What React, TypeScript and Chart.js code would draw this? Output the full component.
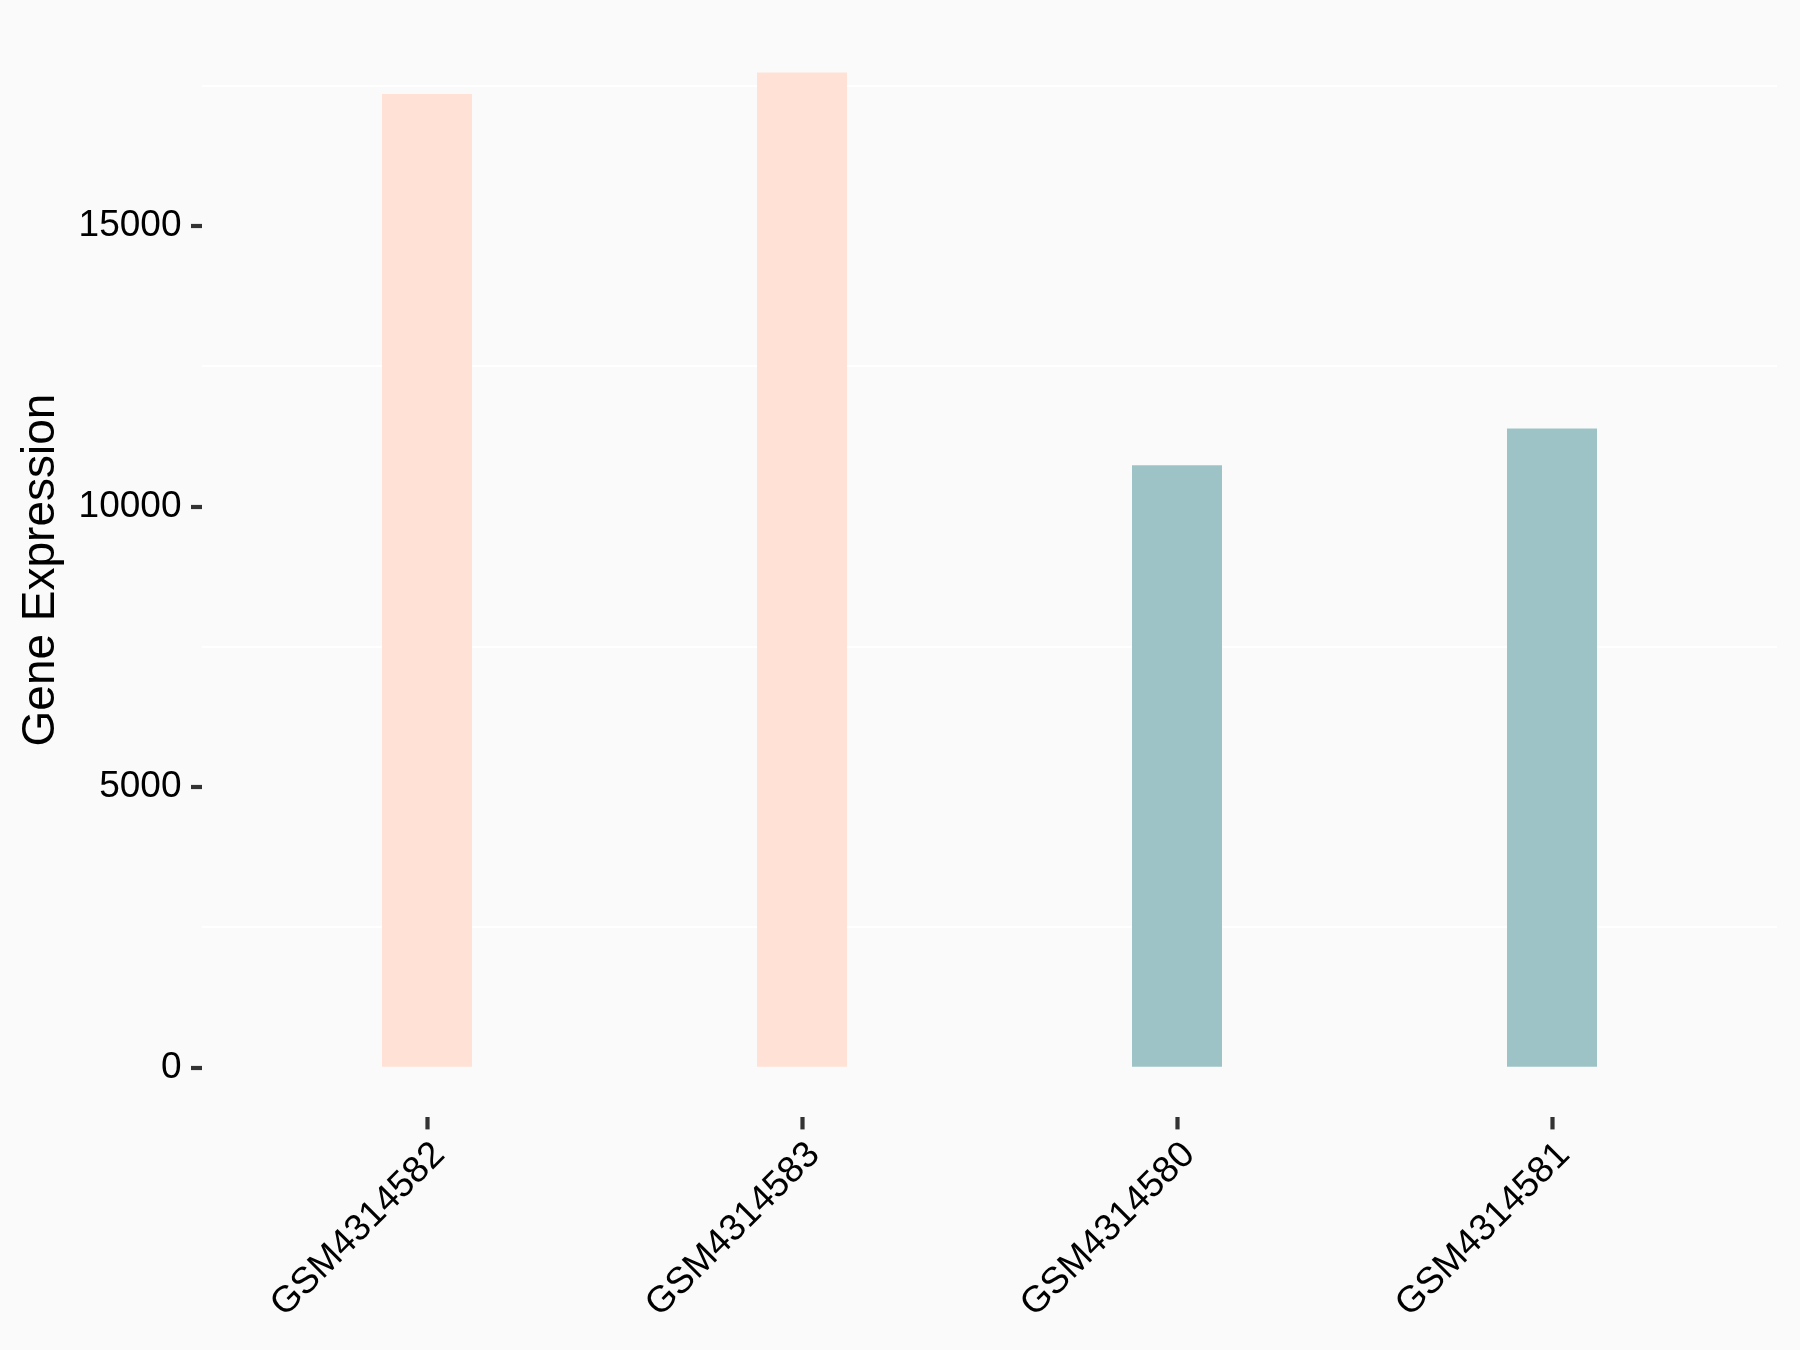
import { useEffect, useRef } from "react";
import { Chart, registerables } from "chart.js";

Chart.register(...registerables);

const categories = ["GSM4314582", "GSM4314583", "GSM4314580", "GSM4314581"];
const values = [17355, 17740, 10740, 11395];
const barColors = ["#FFE1D6", "#FFE1D6", "#9DC3C7", "#9DC3C7"];
const yTickValues = [0, 2500, 5000, 7500, 10000, 12500, 15000, 17500];
const yLabeledTicks = [0, 5000, 10000, 15000];

const FONT = "'Liberation Sans', Arial, Helvetica, sans-serif";

export default function App() {
  const ref = useRef<HTMLCanvasElement>(null);

  useEffect(() => {
    const maxV = Math.max(...values);
    const pad = maxV * 0.05;
    const chart = new Chart(ref.current!, {
      type: "bar",
      data: {
        datasets: [
          {
            data: values.map((v, i) => ({ x: i + 1, y: v })),
            backgroundColor: barColors,
            borderWidth: 0,
            barPercentage: 0.24,
            categoryPercentage: 1,
          },
        ],
      },
      options: {
        animation: false,
        responsive: false,
        layout: { padding: { top: 22.7, right: 23, left: 0, bottom: 0 } },
        plugins: { legend: { display: false }, tooltip: { enabled: false } },
        scales: {
          x: {
            type: "linear",
            min: 0.4,
            max: 4.6,
            offset: false,
            afterBuildTicks: (s: any) => {
              s.ticks = categories.map((_, i) => ({ value: i + 1 }));
            },
            afterFit: (s: any) => {
              s.height = 232.6;
              s.paddingLeft = 0;
              s.paddingRight = 0;
            },
            ticks: {
              autoSkip: false,
              minRotation: 45,
              maxRotation: 45,
              padding: 4,
              labelOffset: 12,
              color: "#000000",
              font: { family: FONT, size: 37 },
              callback: (v: any) => categories[Number(v) - 1] ?? "",
            },
            grid: {
              offset: false,
              drawOnChartArea: false,
              drawTicks: true,
              tickLength: 12,
              tickColor: "#333333",
              tickWidth: 4.2,
            },
            border: { display: false },
          },
          y: {
            type: "linear",
            min: -pad,
            max: maxV + pad,
            afterBuildTicks: (s: any) => {
              s.ticks = yTickValues.map((v) => ({ value: v }));
            },
            afterFit: (s: any) => {
              s.width = 202;
              s.paddingTop = 0;
              s.paddingBottom = 0;
            },
            ticks: {
              padding: 9.5,
              color: "#000000",
              font: { family: FONT, size: 37 },
              callback: (v: any) => (yLabeledTicks.includes(Number(v)) ? String(v) : ""),
            },
            grid: {
              drawOnChartArea: true,
              drawTicks: true,
              tickLength: 11,
              lineWidth: 2,
              tickWidth: 4.2,
              color: (ctx: any) =>
                ctx.tick && !yLabeledTicks.includes(ctx.tick.value) ? "#FFFFFF" : "rgba(0,0,0,0)",
              tickColor: (ctx: any) =>
                ctx.tick && yLabeledTicks.includes(ctx.tick.value) ? "#333333" : "rgba(0,0,0,0)",
            },
            border: { display: false },
            title: {
              display: true,
              text: "Gene Expression",
              color: "#000000",
              font: { family: FONT, size: 46 },
              padding: { top: 14, bottom: 0 },
            },
          },
        },
      },
    });
    return () => chart.destroy();
  }, []);

  return (
    <div
      style={{
        position: "fixed",
        left: 0,
        top: 0,
        width: 1800,
        height: 1350,
        background: "#FAFAFA",
      }}
    >
      <canvas ref={ref} width={1800} height={1350} style={{ display: "block" }} />
    </div>
  );
}
